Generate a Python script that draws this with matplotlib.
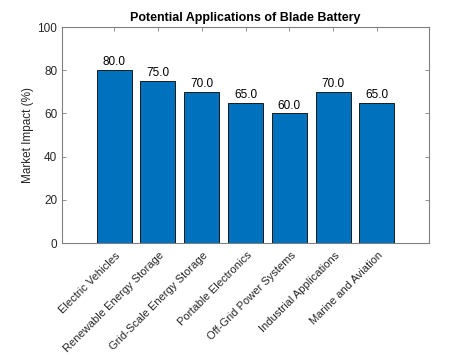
import matplotlib
matplotlib.use("Agg")
import matplotlib.pyplot as plt
import matplotlib.transforms as mtransforms

categories = ["Electric Vehicles", "Renewable Energy Storage", "Grid-Scale Energy Storage",
              "Portable Electronics", "Off-Grid Power Systems", "Industrial Applications",
              "Marine and Aviation"]
values = [80, 75, 70, 65, 60, 70, 65]
yticks = [0, 20, 40, 60, 80, 100]

plt.rcParams['font.family'] = ['Liberation Sans', 'DejaVu Sans']

fig = plt.figure(figsize=(4.74, 3.55), dpi=100)
ax = fig.add_axes([62/474, 1-243/355, (429-62)/474, (243-27)/355])
x = list(range(len(categories)))
bars = ax.bar(x, values, width=0.8, color="#0072BD", edgecolor="#1a1a1a", linewidth=0.7, zorder=2)
for xi, v in zip(x, values):
    ax.text(xi, v + 0.8, f"{v:.1f}", ha="center", va="bottom", fontsize=8.5, color="#000000")
ax.set_xlim(-1.19, 6 + 1.19)
ax.set_ylim(0, 100)
ax.set_yticks(yticks)
ax.set_xticks(x)
ax.set_xticklabels([])
trans = ax.get_xaxis_transform() + mtransforms.ScaledTranslation(7/100, -13/100, fig.dpi_scale_trans)
for xi, c in zip(x, categories):
    ax.text(xi, 0, c, transform=trans, rotation=45, ha="right", va="baseline",
            rotation_mode="anchor", fontsize=8.0, color="#262626")
ax.tick_params(axis="y", labelsize=8.5, colors="#262626")
ax.tick_params(direction="in", length=3, color="#808080", top=True, right=True, width=0.6)
for s in ax.spines.values():
    s.set_color("#808080")
    s.set_linewidth(0.8)
ax.set_ylabel("Market Impact (%)", fontsize=8.5, color="#262626", labelpad=2)
ax.set_title("Potential Applications of Blade Battery", fontsize=9, fontweight="bold", pad=4)
fig.savefig("out.png", dpi=100)
